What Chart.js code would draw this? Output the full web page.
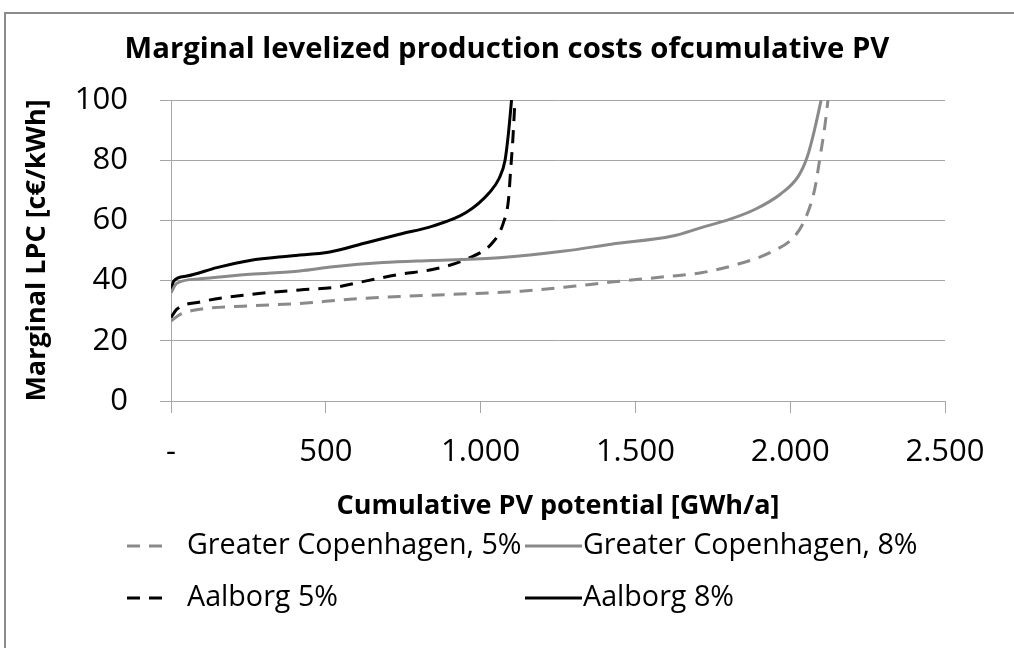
<!DOCTYPE html>
<html>
<head>
<meta charset="utf-8">
<script src="https://cdn.jsdelivr.net/npm/chart.js@4.4.0/dist/chart.umd.min.js"></script>
<style>
    body { margin: 0; background: #fff; }
    #wrap { position: relative; width: 1014px; height: 648px; overflow: hidden; }
    #frame { position: absolute; left: 4px; top: 12px; width: 1020px; height: 650px; border-left: 2px solid #8c8c8c; border-top: 2px solid #8c8c8c; }
    canvas { position: absolute; left: 0; top: 0; }
</style>
</head>
<body>
<div id="wrap">
    <div id="frame"></div>
    <canvas id="lpcChart" width="1014" height="648"></canvas>
</div>
<script>
// Greater Copenhagen, 5%
const gcph5X = [0, 30, 94, 255, 416, 577, 738, 899, 1131, 1306, 1422, 1597, 1713, 1829, 1945, 2015, 2050, 2079, 2097, 2112, 2122];
const gcph5Y = [26.6, 28.8, 30.5, 31.6, 32.4, 33.8, 34.7, 35.4, 36.5, 38.2, 39.5, 41.3, 42.6, 45.4, 49.8, 54.8, 60.9, 70.3, 81.4, 91.4, 100];

// Greater Copenhagen, 8%
const gcph8X = [0, 19, 94, 255, 416, 524, 685, 845, 1060, 1271, 1422, 1620, 1713, 1806, 1887, 1968, 2027, 2056, 2079, 2100];
const gcph8Y = [36, 39.1, 40.6, 42.1, 43.2, 44.6, 46, 46.7, 47.6, 49.8, 52.1, 54.8, 57.6, 60.4, 63.7, 68.7, 74.8, 81.4, 90.3, 100];

// Aalborg 5%
const aal5X = [0, 19, 94, 255, 416, 524, 631, 738, 845, 953, 1041, 1073, 1090, 1097, 1104, 1111];
const aal5Y = [27.7, 30.5, 32.9, 35.4, 36.9, 37.7, 39.9, 42.1, 43.7, 47.1, 52.9, 59, 66.8, 76.7, 86.7, 100];

// Aalborg 8%
const aal8X = [0, 9, 51, 148, 255, 384, 513, 631, 738, 845, 953, 1028, 1060, 1079, 1090, 1100];
const aal8Y = [36.5, 39.9, 41.5, 44.3, 46.7, 48.2, 49.5, 52.6, 55.4, 58.1, 62.6, 69.2, 74, 80, 89, 100];

const xTickLabels = ['-', '500', '1.000', '1.500', '2.000', '2.500'];
const seriesLabels = ['Greater Copenhagen, 5%', 'Greater Copenhagen, 8%', 'Aalborg 5%', 'Aalborg 8%'];
const chartTitle = 'Marginal levelized production costs ofcumulative PV';

const FONT = '"Open Sans", sans-serif';

function toPoints(xs, ys) {
    return xs.map((x, i) => ({ x: x, y: ys[i] }));
}

// Title centred on the whole figure (the built-in one centres on the padded box)
const figureTitle = {
    id: 'figureTitle',
    afterDraw(chart) {
        const ctx = chart.ctx;
        ctx.save();
        ctx.fillStyle = '#000';
        ctx.font = 'bold 29.3px ' + FONT;
        ctx.textAlign = 'center';
        ctx.textBaseline = 'alphabetic';
        ctx.fillText(chartTitle, chart.width / 2, 58);
        ctx.restore();
    }
};

// Legend laid out as a 2x2 grid like the original
const gridLegend = {
    id: 'gridLegend',
    afterDraw(chart) {
        const ctx = chart.ctx;
        const colX = [127, 525];
        const rowY = [546, 598];
        chart.data.datasets.forEach((ds, i) => {
            const x = colX[i % 2];
            const y = rowY[Math.floor(i / 2)];
            const dashed = ds.borderDash && ds.borderDash.length;
            const len = dashed ? 38 : 57;
            ctx.save();
            ctx.strokeStyle = ds.borderColor;
            ctx.lineWidth = ds.borderWidth;
            ctx.setLineDash(dashed ? ds.borderDash : []);
            ctx.beginPath();
            ctx.moveTo(x, y);
            ctx.lineTo(x + len, y);
            ctx.stroke();
            ctx.setLineDash([]);
            ctx.fillStyle = '#000';
            ctx.font = '28.7px ' + FONT;
            ctx.textBaseline = 'middle';
            ctx.fillText(ds.label, dashed ? x + 60 : x + 58, y);
            ctx.restore();
        });
    }
};

const gray = '#8a8a8a';
const gridColor = '#a6a6a6';

const ctx = document.getElementById('lpcChart').getContext('2d');
new Chart(ctx, {
    type: 'line',
    data: {
        datasets: [
            { label: seriesLabels[0], data: toPoints(gcph5X, gcph5Y), borderColor: gray, borderWidth: 3, borderDash: [13, 9] },
            { label: seriesLabels[1], data: toPoints(gcph8X, gcph8Y), borderColor: gray, borderWidth: 3 },
            { label: seriesLabels[2], data: toPoints(aal5X, aal5Y), borderColor: '#000', borderWidth: 3, borderDash: [13, 9] },
            { label: seriesLabels[3], data: toPoints(aal8X, aal8Y), borderColor: '#000', borderWidth: 3 }
        ]
    },
    options: {
        responsive: false,
        animation: false,
        elements: {
            point: { radius: 0 },
            line: { cubicInterpolationMode: 'monotone', borderCapStyle: 'butt' }
        },
        layout: {
            padding: { left: 0, right: 69, top: 100, bottom: 127 }
        },
        plugins: {
            legend: { display: false },
            tooltip: { enabled: false },
            title: { display: false }
        },
        scales: {
            x: {
                type: 'linear',
                min: 0,
                max: 2500,
                afterFit: function(scale) { scale.height = 120; },
                grid: { drawOnChartArea: false, drawTicks: true, tickLength: 12, color: gridColor },
                border: { color: gridColor },
                ticks: {
                    stepSize: 500,
                    color: '#000',
                    padding: 21,
                    maxRotation: 0,
                    font: { family: FONT, size: 31 },
                    callback: function(value) { return xTickLabels[Math.round(value / 500)]; }
                },
                title: {
                    display: true,
                    text: 'Cumulative PV potential [GWh/a]',
                    color: '#000',
                    font: { family: FONT, size: 27, weight: 'bold' },
                    padding: { top: 0, bottom: -2 }
                }
            },
            y: {
                min: 0,
                max: 100,
                afterFit: function(scale) { scale.width = 171; },
                grid: { color: gridColor, tickLength: 11 },
                border: { color: gridColor },
                ticks: {
                    stepSize: 20,
                    color: '#000',
                    padding: 32,
                    font: { family: FONT, size: 31 }
                },
                title: {
                    display: true,
                    text: 'Marginal LPC [c€/kWh]',
                    color: '#000',
                    font: { family: FONT, size: 27, weight: 'bold' },
                    padding: { top: 21, bottom: 0 }
                }
            }
        }
    },
    plugins: [figureTitle, gridLegend]
});
</script>
</body>
</html>
